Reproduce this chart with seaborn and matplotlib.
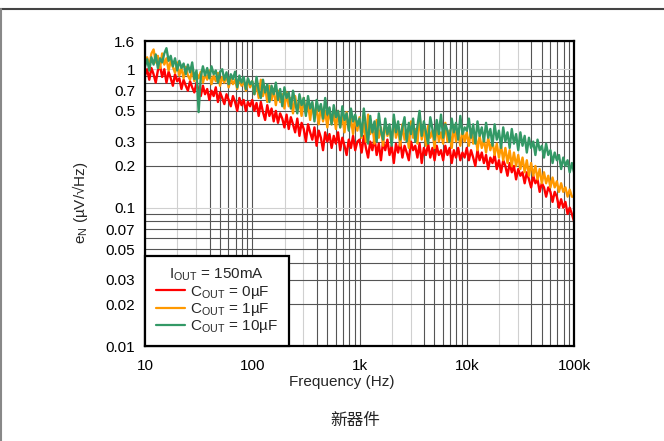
import numpy as np
import pandas as pd
import seaborn as sns
import matplotlib
matplotlib.use("Agg")
import matplotlib.pyplot as plt
from matplotlib.lines import Line2D
from matplotlib.ticker import FixedLocator, NullFormatter, LogLocator

# ---------------- data ----------------
red_0uF = [
    0.9, 1.0, 0.84, 1.02, 0.92, 0.8, 0.98, 1.06, 0.88, 1.0, 0.8, 0.96, 0.86, 0.76, 0.92, 0.82, 0.86, 0.72, 0.84, 0.76,
    0.7, 0.82, 0.74, 0.68, 0.8, 0.7, 0.64, 0.76, 0.66, 0.72, 0.6, 0.7, 0.64, 0.74, 0.58, 0.68, 0.62, 0.56, 0.66, 0.6,
    0.54, 0.64, 0.58, 0.5, 0.62, 0.55, 0.6, 0.5, 0.58, 0.54,
    0.6, 0.5, 0.57, 0.46, 0.58, 0.49, 0.43, 0.55, 0.46, 0.52, 0.42, 0.5, 0.41, 0.48, 0.44, 0.38, 0.47, 0.37, 0.45, 0.4,
    0.35, 0.44, 0.33, 0.41, 0.37, 0.3, 0.4, 0.35, 0.31, 0.38, 0.28, 0.36, 0.32, 0.26, 0.35, 0.3, 0.34, 0.27, 0.33, 0.29,
    0.35, 0.26, 0.32, 0.28, 0.24, 0.31, 0.27, 0.33, 0.26, 0.3,
    0.31, 0.25, 0.33, 0.27, 0.23, 0.3, 0.26, 0.32, 0.24, 0.29, 0.22, 0.3, 0.26, 0.31, 0.24, 0.28, 0.21, 0.29, 0.25, 0.3,
    0.23, 0.28, 0.25, 0.22, 0.3, 0.26, 0.28, 0.23, 0.29, 0.21, 0.27, 0.24, 0.29, 0.23, 0.27, 0.22, 0.28, 0.24, 0.26, 0.22,
    0.28, 0.24, 0.27, 0.21, 0.26, 0.23, 0.27, 0.22, 0.25, 0.23,
    0.27, 0.22, 0.26, 0.23, 0.2, 0.26, 0.22, 0.25, 0.21, 0.24, 0.19, 0.23, 0.21, 0.24, 0.19, 0.22, 0.18, 0.22, 0.2, 0.17,
    0.21, 0.18, 0.2, 0.16, 0.19, 0.17, 0.18, 0.15, 0.18, 0.16, 0.14, 0.17, 0.15, 0.16, 0.13, 0.15, 0.14, 0.12, 0.14, 0.13,
    0.11, 0.13, 0.12, 0.1, 0.115, 0.1, 0.11, 0.09, 0.1, 0.09,
    0.08,
]
orange_1uF = [
    1.1, 1.22, 1.05, 1.3, 1.39, 1.12, 1.25, 1.02, 1.3, 1.08, 1.2, 0.98, 1.15, 1.04, 0.94, 1.12, 0.9, 1.02, 0.86, 1.04,
    0.9, 0.84, 1.0, 0.82, 0.94, 0.86, 0.96, 0.8, 0.92, 0.84, 0.98, 0.78, 0.9, 0.82, 0.94, 0.76, 0.88, 0.8, 0.92, 0.74,
    0.86, 0.78, 0.84, 0.72, 0.88, 0.76, 0.82, 0.7, 0.84, 0.74,
    0.82, 0.66, 0.78, 0.62, 0.84, 0.64, 0.74, 0.58, 0.76, 0.6, 0.72, 0.55, 0.7, 0.58, 0.66, 0.52, 0.68, 0.54, 0.62, 0.48,
    0.64, 0.5, 0.58, 0.46, 0.62, 0.48, 0.56, 0.43, 0.57, 0.45, 0.52, 0.4, 0.54, 0.42, 0.5, 0.38, 0.52, 0.4, 0.48, 0.37,
    0.5, 0.38, 0.46, 0.35, 0.49, 0.37, 0.44, 0.34, 0.46, 0.36,
    0.45, 0.32, 0.41, 0.3, 0.47, 0.34, 0.39, 0.29, 0.43, 0.32, 0.38, 0.28, 0.41, 0.33, 0.37, 0.29, 0.44, 0.32, 0.38, 0.28,
    0.4, 0.31, 0.36, 0.27, 0.42, 0.32, 0.37, 0.29, 0.46, 0.31, 0.38, 0.28, 0.39, 0.32, 0.36, 0.27, 0.4, 0.3, 0.35, 0.29,
    0.41, 0.3, 0.36, 0.27, 0.39, 0.3, 0.35, 0.28, 0.37, 0.3,
    0.35, 0.28, 0.37, 0.29, 0.34, 0.26, 0.33, 0.27, 0.31, 0.25, 0.32, 0.26, 0.3, 0.24, 0.29, 0.23, 0.28, 0.22, 0.27, 0.21,
    0.26, 0.2, 0.25, 0.2, 0.24, 0.19, 0.23, 0.18, 0.22, 0.17, 0.21, 0.17, 0.2, 0.16, 0.19, 0.15, 0.18, 0.15, 0.17, 0.14,
    0.165, 0.14, 0.155, 0.13, 0.15, 0.13, 0.14, 0.12, 0.135, 0.12,
    0.12,
]
green_10uF = [
    1.05, 1.18, 0.98, 1.22, 1.08, 1.28, 1.02, 1.2, 1.12, 1.3, 1.42, 1.15, 1.25, 1.05, 1.2, 0.98, 1.15, 1.02, 1.1, 0.92,
    1.08, 0.95, 1.12, 0.85, 0.98, 0.49, 0.88, 1.05, 0.9, 1.02, 0.86, 1.05, 0.92, 0.98, 0.8, 0.96, 1.0, 0.84, 0.95, 0.78,
    0.92, 0.85, 0.96, 0.74, 0.9, 0.8, 0.88, 0.72, 0.86, 0.78,
    0.82, 0.66, 0.88, 0.7, 0.62, 0.84, 0.68, 0.78, 0.58, 0.76, 0.66, 0.8, 0.6, 0.72, 0.54, 0.74, 0.62, 0.68, 0.52, 0.7,
    0.58, 0.48, 0.66, 0.55, 0.62, 0.46, 0.64, 0.52, 0.58, 0.42, 0.6, 0.5, 0.56, 0.44, 0.62, 0.47, 0.53, 0.4, 0.55, 0.45,
    0.5, 0.38, 0.54, 0.43, 0.48, 0.36, 0.52, 0.42, 0.47, 0.39,
    0.44, 0.33, 0.52, 0.38, 0.29, 0.46, 0.35, 0.42, 0.3, 0.48, 0.36, 0.31, 0.44, 0.34, 0.4, 0.28, 0.47, 0.35, 0.42, 0.31,
    0.38, 0.45, 0.3, 0.41, 0.34, 0.44, 0.3, 0.39, 0.5, 0.33, 0.42, 0.35, 0.29, 0.45, 0.37, 0.31, 0.43, 0.34, 0.47, 0.32,
    0.4, 0.36, 0.3, 0.44, 0.35, 0.41, 0.31, 0.46, 0.34, 0.38,
    0.36, 0.44, 0.32, 0.4, 0.29, 0.42, 0.33, 0.38, 0.3, 0.41, 0.32, 0.37, 0.28, 0.4, 0.31, 0.36, 0.27, 0.38, 0.3, 0.35,
    0.27, 0.37, 0.29, 0.34, 0.26, 0.35, 0.28, 0.33, 0.25, 0.32, 0.27, 0.3, 0.24, 0.31, 0.26, 0.28, 0.23, 0.29, 0.24, 0.26,
    0.21, 0.25, 0.22, 0.24, 0.19, 0.23, 0.2, 0.22, 0.18, 0.21,
    0.18,
]

series_names = ["C$_\\mathregular{OUT}$ = 0µF", "C$_\\mathregular{OUT}$ = 1µF", "C$_\\mathregular{OUT}$ = 10µF"]
series_colors = ["#FF0000", "#FF9900", "#339966"]
x_ticks = [10, 100, 1000, 10000, 100000]
x_tick_labels = ["10", "100", "1k", "10k", "100k"]
y_ticks = [0.01, 0.02, 0.03, 0.05, 0.07, 0.1, 0.2, 0.3, 0.5, 0.7, 1, 1.6]
y_tick_labels = ["0.01", "0.02", "0.03", "0.05", "0.07", "0.1", "0.2", "0.3", "0.5", "0.7", "1", "1.6"]

df = pd.concat([
    pd.DataFrame({"f": np.geomspace(10, 1e5, len(vals)), "v": vals, "s": name})
    for name, vals in zip(series_names, [red_0uF, orange_1uF, green_10uF])
], ignore_index=True)

# ---------------- style ----------------
sns.set_style("white")
plt.rcParams["font.family"] = ["Liberation Sans", "DejaVu Sans"]
plt.rcParams["mathtext.fontset"] = "custom"
plt.rcParams["mathtext.rm"] = "Liberation Sans"

fig = plt.figure(figsize=(6.64, 4.41), dpi=100)
ax = fig.add_axes([145 / 664, 1 - 346 / 441, (574 - 145) / 664, (346 - 41) / 441])

sns.lineplot(data=df, x="f", y="v", hue="s", palette=dict(zip(series_names, series_colors)),
             linewidth=1.7, ax=ax, legend=False, sort=False, estimator=None)

ax.set_xscale("log")
ax.set_yscale("log")
ax.set_xlim(10, 1e5)
ax.set_ylim(0.01, 1.6)

ax.set_xticks(x_ticks)
ax.set_xticklabels(x_tick_labels)
ax.xaxis.set_minor_locator(LogLocator(base=10, subs=np.arange(2, 10)))
ax.xaxis.set_minor_formatter(NullFormatter())
ax.yaxis.set_major_locator(FixedLocator(y_ticks))
ax.set_yticklabels(y_tick_labels)
ax.yaxis.set_minor_locator(LogLocator(base=10, subs=np.arange(1, 10)))
ax.yaxis.set_minor_formatter(NullFormatter())

ax.tick_params(axis="both", which="both", length=0, labelsize=11, colors="black")
ax.tick_params(axis="x", pad=9)
ax.tick_params(axis="y", pad=7)

for sp in ax.spines.values():
    sp.set_visible(True)
    sp.set_color("black")
    sp.set_linewidth(1.6)

ax.set_xlabel("Frequency (Hz)", fontsize=11)
ax.xaxis.set_label_coords((342 - 145) / 429, -0.095)
ax.set_ylabel("e$_\\mathregular{N}$ (µV/√Hz)", fontsize=11)
ax.yaxis.set_label_coords(-0.128, 0.47)

handles = [Line2D([0], [0], color=c, lw=1.6) for c in series_colors]
leg = ax.legend(handles, series_names, title="I$_\\mathregular{OUT}$ = 150mA",
                loc="lower left", borderaxespad=0, fancybox=False, framealpha=1,
                edgecolor="black", fontsize=11, title_fontsize=11,
                handlelength=1.9, handletextpad=0.35, labelspacing=0.02,
                borderpad=0.7)
leg.get_frame().set_linewidth(1.6)

# figure border lines
fig.add_artist(Line2D([0, 1], [1 - 9 / 441, 1 - 9 / 441], transform=fig.transFigure, color="#444444", lw=1.5))
fig.add_artist(Line2D([0.001, 0.001], [0, 1 - 9 / 441], transform=fig.transFigure, color="#888888", lw=1.5))

fig.text(355 / 664, 1 - 421 / 441, "新器件", ha="center", va="center", fontsize=12,
         family=["Noto Sans CJK SC", "DejaVu Sans"])

# grid
ax.set_axisbelow(True)
ax.grid(False)
dark = "#555555"
light = "#d0d0d0"
fig.canvas.draw()


def mant(v):
    return int(round(v / 10 ** np.floor(np.log10(v) + 1e-9)))


def style_grid(axis, locs, ticks, light_set):
    for t, loc in zip(ticks, locs):
        if loc <= 0:
            continue
        t.gridline.set_visible(True)
        t.gridline.set_color(light if mant(loc) in light_set else dark)
        t.gridline.set_linewidth(0.8)


xmaj = ax.xaxis.get_majorticklocs()
style_grid(ax.xaxis, xmaj, ax.xaxis.get_major_ticks(len(xmaj)), ())
xmin_locs = ax.xaxis.get_minorticklocs()
style_grid(ax.xaxis, xmin_locs, ax.xaxis.get_minor_ticks(len(xmin_locs)), (2, 3))
ymaj = ax.yaxis.get_majorticklocs()
style_grid(ax.yaxis, ymaj, ax.yaxis.get_major_ticks(len(ymaj)), (1,))
ymin_locs = ax.yaxis.get_minorticklocs()
style_grid(ax.yaxis, ymin_locs, ax.yaxis.get_minor_ticks(len(ymin_locs)), (1,))

fig.savefig("out.png", dpi=100)
